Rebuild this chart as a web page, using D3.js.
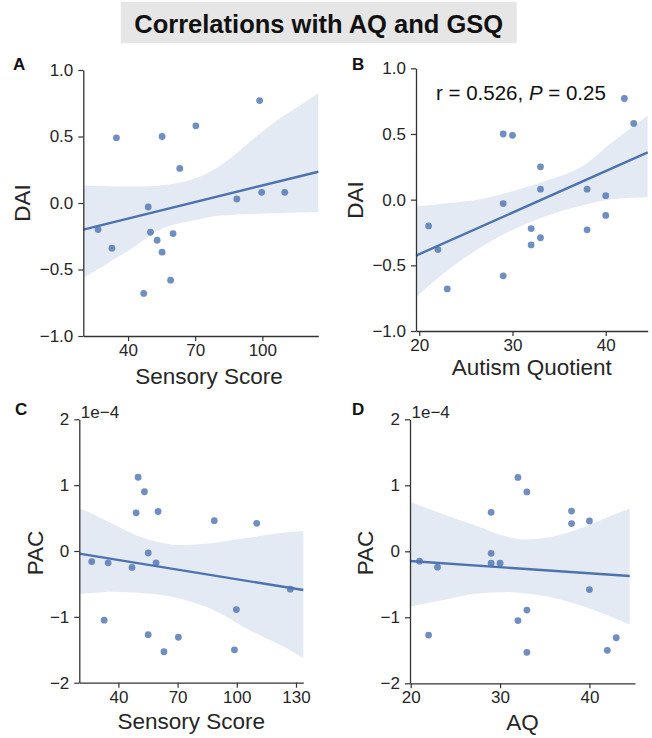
<!DOCTYPE html>
<html>
<head>
<meta charset="utf-8">
<script src="https://cdn.jsdelivr.net/npm/d3@7"></script>
<style>
  html, body { margin: 0; padding: 0; background: #fff; }
  svg { display: block; font-family: "Liberation Sans", Arial, Helvetica, sans-serif; }
</style>
</head>
<body>
<svg id="chart" width="652" height="738"></svg>
<script>
// ---------------- DATA ----------------
const titleText = "Correlations with AQ and GSQ";

// Panel A: DAI vs Sensory Score
const sensoryA = [26.6, 32.8, 34.8, 47, 49, 50, 53, 55.2, 55.2, 59, 60.1, 63.1, 70.3, 88.6, 98.8, 99.7, 110];
const daiA     = [-0.20, -0.34, 0.49, -0.68, -0.03, -0.22, -0.28, 0.50, -0.37, -0.58, -0.23, 0.26, 0.58, 0.03, 0.77, 0.08, 0.08];
const fitAx = [20, 125];
const fitAy = [-0.20, 0.235];
const bandAx  = [20, 27.5, 33.4, 40.9, 48.4, 55.8, 63.3, 70.8, 78.2, 85.7, 93.2, 100.6, 108.1, 116.5, 125];
const bandAhi = [0.13, 0.128, 0.125, 0.125, 0.125, 0.135, 0.155, 0.19, 0.25, 0.337, 0.442, 0.545, 0.639, 0.73, 0.827];
const bandAlo = [-0.564, -0.489, -0.426, -0.351, -0.263, -0.188, -0.150, -0.126, -0.10, -0.09, -0.083, -0.079, -0.075, -0.071, -0.068];

// Panel B: DAI vs Autism Quotient
const aqB  = [21, 22, 23, 29, 30, 29, 29, 32, 32, 33, 33, 33, 38, 38, 40, 40, 42, 43];
const daiB = [-0.20, -0.38, -0.68, 0.50, 0.49, -0.03, -0.58, -0.22, -0.345, 0.25, 0.08, -0.29, 0.08, -0.23, 0.03, -0.12, 0.77, 0.58];
const fitBx = [19.65, 44.5];
const fitBy = [-0.426, 0.36];
const bandBx  = [19.65, 23, 26.6, 30.2, 33.7, 37.3, 40.9, 44.5];
const bandBhi = [-0.053, -0.028, 0.005, 0.068, 0.145, 0.246, 0.449, 0.64];
const bandBlo = [-0.744, -0.54, -0.363, -0.223, -0.122, -0.046, 0.005, 0.018];

// Panel C: PAC (x1e-4) vs Sensory Score
const sensoryC = [26.5, 32.8, 34.8, 46.9, 49, 50, 53.2, 55.1, 55.1, 59.1, 60.1, 63.1, 70.4, 88.6, 98.8, 99.8, 110.1, 127.1];
const pacC     = [-0.16, -1.05, -0.18, -0.25, 0.58, 1.12, 0.90, -0.03, -1.27, -0.18, 0.60, -1.53, -1.31, 0.46, -1.50, -0.89, 0.42, -0.58];
const fitCx = [20.2, 133.7];
const fitCy = [-0.04, -0.593];
const bandCx  = [20.2, 28, 36.5, 44.9, 53.4, 61.8, 70.2, 78.6, 87.1, 95.5, 104, 112.4, 120.9, 133.7];
const bandChi = [0.649, 0.547, 0.42, 0.294, 0.192, 0.127, 0.091, 0.10, 0.117, 0.155, 0.193, 0.23, 0.268, 0.304];
const bandClo = [-0.653, -0.635, -0.618, -0.625, -0.643, -0.67, -0.715, -0.79, -0.88, -1.01, -1.16, -1.29, -1.41, -1.63];

// Panel D: PAC (x1e-4) vs AQ
const aqD  = [21, 22, 23, 29, 29, 29, 30, 32, 32, 33, 33, 33, 38, 38, 40, 40, 42, 43];
const pacD = [-0.15, -1.27, -0.24, 0.59, -0.03, -0.18, -0.18, 1.12, -1.05, 0.90, -0.89, -1.53, 0.61, 0.42, 0.46, -0.58, -1.50, -1.31];
const fitDx = [19.92, 44.5];
const fitDy = [-0.147, -0.375];
const bandDx  = [19.92, 23.4, 27.2, 30.9, 32.8, 34.6, 38.4, 42.1, 44.5];
const bandDhi = [0.75, 0.573, 0.395, 0.217, 0.177, 0.193, 0.319, 0.521, 0.649];
const bandDlo = [-0.836, -0.745, -0.643, -0.618, -0.64, -0.669, -0.795, -0.973, -1.109];

// Tick values
const ticksDAI = [-1, -0.5, 0, 0.5, 1];
const ticksPAC = [-2, -1, 0, 1, 2];
const ticksSensoryA = [40, 70, 100];
const ticksSensoryC = [40, 70, 100, 130];
const ticksAQ = [20, 30, 40];

// ---------------- STYLE ----------------
const BLUE = "#4c72b0";
const AXIS = "#333333";
const TEXT = "#262626";

const svg = d3.select("#chart");

// Title
svg.append("rect").attr("x", 120.7).attr("y", 1.7).attr("width", 396).attr("height", 41.6).attr("fill", "#e6e6e6");
svg.append("text").attr("x", 318.7).attr("y", 33).attr("text-anchor", "middle")
  .attr("font-size", 25.5).attr("font-weight", "bold").attr("fill", "#111").text(titleText);

const panels = [
  { letter: "A", lx: 13, ly: 70, xs: sensoryA, ys: daiA, fx: fitAx, fy: fitAy, bx: bandAx, bhi: bandAhi, blo: bandAlo,
    xr: [83.3, 318.3], yr: [336, 70], xd: [20, 125], yd: [-1, 1], xt: ticksSensoryA, yt: ticksDAI, yfmt: d3.format(".1f"),
    xlabel: "Sensory Score", xlx: 209, xly: 384, ylabel: "DAI", ylx: 30, yly: 203 },
  { letter: "B", lx: 352, ly: 70, xs: aqB, ys: daiB, fx: fitBx, fy: fitBy, bx: bandBx, bhi: bandBhi, blo: bandBlo,
    xr: [416, 647.7], yr: [331, 68.3], xd: [19.65, 44.5], yd: [-1, 1], xt: ticksAQ, yt: ticksDAI, yfmt: d3.format(".1f"),
    xlabel: "Autism Quotient", xlx: 531.8, xly: 375, ylabel: "DAI", ylx: 363, yly: 200, annot: true },
  { letter: "C", lx: 15, ly: 415, xs: sensoryC, ys: pacC, fx: fitCx, fy: fitCy, bx: bandCx, bhi: bandChi, blo: bandClo,
    xr: [79.3, 303.3], yr: [682.7, 419.3], xd: [20.2, 133.7], yd: [-2, 2], xt: ticksSensoryC, yt: ticksPAC, yfmt: d3.format("d"),
    xlabel: "Sensory Score", xlx: 191.3, xly: 729, ylabel: "PAC", ylx: 43, yly: 553, offset: "1e\u22124" },
  { letter: "D", lx: 352, ly: 415, xs: aqD, ys: pacD, fx: fitDx, fy: fitDy, bx: bandDx, bhi: bandDhi, blo: bandDlo,
    xr: [410, 635], yr: [683.3, 419.3], xd: [19.92, 45.1], yd: [-2, 2], xt: ticksAQ, yt: ticksPAC, yfmt: d3.format("d"),
    xlabel: "AQ", xlx: 522.5, xly: 730, ylabel: "PAC", ylx: 373, yly: 553, offset: "1e\u22124" }
];

panels.forEach(p => {
  const x = d3.scaleLinear().domain(p.xd).range(p.xr);
  const y = d3.scaleLinear().domain(p.yd).range(p.yr);
  const g = svg.append("g");

  // confidence band
  const bandData = p.bx.map((v, i) => ({ x: v, hi: p.bhi[i], lo: p.blo[i] }));
  g.append("path").datum(bandData)
    .attr("d", d3.area().x(d => x(d.x)).y0(d => y(d.lo)).y1(d => y(d.hi)).curve(d3.curveMonotoneX))
    .attr("fill", BLUE).attr("fill-opacity", 0.15);

  // points
  g.selectAll("circle.pt").data(p.xs.map((v, i) => [v, p.ys[i]])).join("circle")
    .attr("class", "pt").attr("cx", d => x(d[0])).attr("cy", d => y(d[1])).attr("r", 3.4)
    .attr("fill", BLUE).attr("fill-opacity", 0.8);

  // regression line
  g.append("path").datum(p.fx.map((v, i) => [v, p.fy[i]]))
    .attr("d", d3.line().x(d => x(d[0])).y(d => y(d[1])))
    .attr("stroke", BLUE).attr("stroke-width", 2.4).attr("fill", "none");

  // axes
  const xAxis = g.append("g").attr("transform", `translate(0,${p.yr[0]})`)
    .call(d3.axisBottom(x).tickValues(p.xt).tickSize(5).tickPadding(3).tickSizeOuter(0));
  const yAxis = g.append("g").attr("transform", `translate(${p.xr[0]},0)`)
    .call(d3.axisLeft(y).tickValues(p.yt).tickFormat(p.yfmt).tickSize(5).tickPadding(5).tickSizeOuter(0));
  [xAxis, yAxis].forEach(a => {
    a.select(".domain").attr("stroke", AXIS).attr("stroke-width", 1.3);
    a.selectAll(".tick line").attr("stroke", AXIS).attr("stroke-width", 1.2);
    a.selectAll(".tick text").attr("fill", TEXT).attr("font-size", 17)
      .attr("font-family", "'Liberation Sans', Arial, sans-serif");
  });

  // axis labels
  g.append("text").attr("x", p.xlx).attr("y", p.xly).attr("text-anchor", "middle")
    .attr("font-size", 22.5).attr("fill", TEXT).text(p.xlabel);
  g.append("text").attr("transform", `translate(${p.ylx},${p.yly}) rotate(-90)`).attr("text-anchor", "middle")
    .attr("font-size", 22.5).attr("fill", TEXT).text(p.ylabel);

  // panel letter
  g.append("text").attr("x", p.lx).attr("y", p.ly).attr("font-size", 17).attr("font-weight", "bold")
    .attr("fill", "#111").text(p.letter);

  // scientific offset
  if (p.offset) {
    g.append("text").attr("x", p.xr[0] + 1.5).attr("y", p.yr[1] - 1).attr("font-size", 17)
      .attr("fill", TEXT).text(p.offset);
  }

  // annotation
  if (p.annot) {
    const t = g.append("text").attr("x", 436).attr("y", 100).attr("font-size", 20.5).attr("fill", "#111");
    t.append("tspan").text("r = 0.526, ");
    t.append("tspan").attr("font-style", "italic").text("P");
    t.append("tspan").text(" = 0.25");
  }
});
</script>
</body>
</html>
